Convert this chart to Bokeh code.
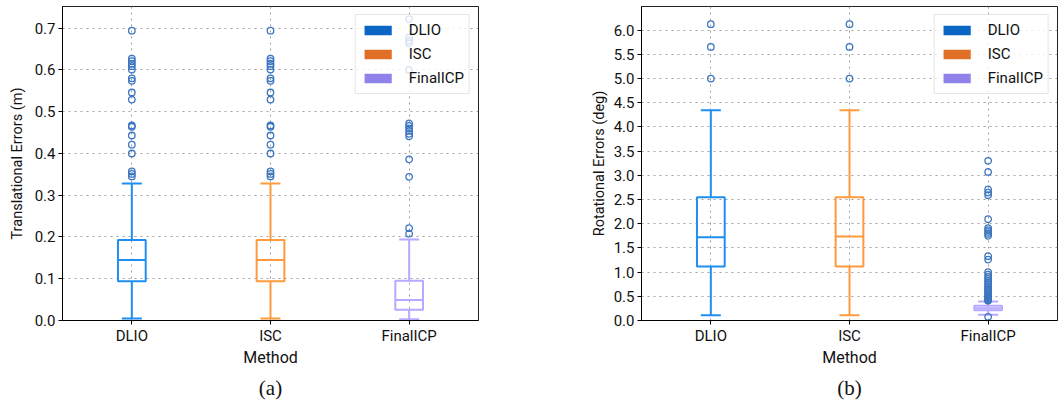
from bokeh.plotting import figure
from bokeh.models import (ColumnDataSource, FactorRange, Range1d, SingleIntervalTicker,
                          Legend, LegendItem, Title, NumeralTickFormatter)
from bokeh.transform import dodge
from bokeh.layouts import row
from bokeh.embed import file_html
from bokeh.resources import INLINE

# ---------------- data ----------------
methods = ["DLIO", "ISC", "FinalICP"]
box_colors = ["#1f8ef1", "#ff9a3d", "#b8a8ff"]
legend_colors = ["#0a66c2", "#e07026", "#8f82ea"]
outlier_color = "#3c76c0"

# translational errors (m): box statistics
t_lo = [0.005, 0.005, 0.003]
t_q1 = [0.094, 0.094, 0.026]
t_med = [0.145, 0.145, 0.049]
t_q3 = [0.193, 0.193, 0.095]
t_hi = [0.328, 0.328, 0.194]
t_out_dlio = [0.694, 0.627, 0.621, 0.615, 0.609, 0.601, 0.580, 0.574, 0.546, 0.529,
              0.467, 0.464, 0.443, 0.421, 0.400, 0.357, 0.351, 0.345]
t_out_isc = [0.694, 0.627, 0.621, 0.615, 0.609, 0.601, 0.580, 0.574, 0.546, 0.529,
             0.467, 0.464, 0.443, 0.421, 0.400, 0.357, 0.351, 0.345]
t_out_ficp = [0.722, 0.678, 0.670, 0.664, 0.600, 0.472, 0.466, 0.460, 0.454, 0.447,
              0.441, 0.386, 0.344, 0.221, 0.208]

# rotational errors (deg): box statistics
r_lo = [0.11, 0.11, 0.12]
r_q1 = [1.116, 1.116, 0.21]
r_med = [1.722, 1.736, 0.255]
r_q3 = [2.548, 2.548, 0.305]
r_hi = [4.347, 4.347, 0.393]
r_out_dlio = [6.125, 5.655, 5.0]
r_out_isc = [6.125, 5.655, 5.0]
r_out_ficp = [3.30, 3.07, 2.71, 2.645, 2.59, 2.094, 1.91, 1.87, 1.83, 1.79, 1.75,
              1.33, 1.26, 1.0, 0.95, 0.9, 0.86, 0.82, 0.78, 0.74, 0.70, 0.67, 0.64,
              0.61, 0.58, 0.55, 0.52, 0.50, 0.48, 0.46, 0.44, 0.42, 0.41, 0.075]

FONT = "Roboto"


def make_plot(lo, q1, med, q3, hi, outs, ylabel, ymax, tick_step, caption,
              border_left, border_right, cap_offset, label_standoff):
    p = figure(x_range=FactorRange(*methods), y_range=Range1d(0, ymax),
               width=530, height=407, output_backend="svg", toolbar_location=None,
               min_border_left=border_left, min_border_right=border_right,
               min_border_top=6, min_border_bottom=87)
    p.background_fill_color = "white"
    p.border_fill_color = "white"
    p.outline_line_color = "#222222"
    p.outline_line_width = 1

    src = ColumnDataSource(dict(method=methods, lo=lo, q1=q1, med=med, q3=q3, hi=hi,
                                color=box_colors, lcolor=legend_colors))
    # whiskers
    p.segment(x0="method", y0="q3", x1="method", y1="hi", source=src,
              line_color="color", line_width=2)
    p.segment(x0="method", y0="lo", x1="method", y1="q1", source=src,
              line_color="color", line_width=2)
    # caps
    p.segment(x0=dodge("method", -0.072, range=p.x_range), y0="hi",
              x1=dodge("method", 0.072, range=p.x_range), y1="hi", source=src,
              line_color="color", line_width=2)
    p.segment(x0=dodge("method", -0.072, range=p.x_range), y0="lo",
              x1=dodge("method", 0.072, range=p.x_range), y1="lo", source=src,
              line_color="color", line_width=2)
    # boxes
    p.vbar(x="method", width=0.2, bottom="q1", top="q3", source=src,
           fill_alpha=0, line_color="color", line_width=2)
    # medians
    p.segment(x0=dodge("method", -0.1, range=p.x_range), y0="med",
              x1=dodge("method", 0.1, range=p.x_range), y1="med", source=src,
              line_color="color", line_width=2)
    # outliers
    ox, oy = [], []
    for m, vals in zip(methods, outs):
        ox += [m] * len(vals)
        oy += vals
    p.scatter(x=ox, y=oy, marker="circle", size=6.5, fill_color=None,
              line_color=outlier_color, line_width=1.3)

    # legend patches: zero-height bars (invisible on the plot) carrying legend colours
    leg_r = p.vbar(x="method", width=0.2, bottom="q1", top="q1", source=src,
                   fill_color="lcolor", line_color=None)
    items = [LegendItem(label=m, renderers=[leg_r], index=i) for i, m in enumerate(methods)]
    leg = Legend(items=items, location="top_right", margin=8, padding=5, spacing=4,
                 glyph_width=34, glyph_height=12, label_height=20, label_standoff=14,
                 label_text_font=FONT, label_text_font_size="15px",
                 label_text_color="#111111",
                 background_fill_alpha=0.8, border_line_color="#cccccc",
                 border_line_width=1)
    p.add_layout(leg, "center")

    # grids
    for g in (p.xgrid, p.ygrid):
        g.grid_line_color = "#a0a0a0"
        g.grid_line_dash = "2 4"
        g.grid_line_width = 1
    # axes
    p.yaxis.ticker = SingleIntervalTicker(interval=tick_step)
    p.yaxis.formatter = NumeralTickFormatter(format="0.0")
    p.yaxis.axis_label = ylabel
    p.xaxis.axis_label = "Method"
    for ax in (p.xaxis, p.yaxis):
        ax.axis_line_color = "black"
        ax.major_tick_line_color = "black"
        ax.major_tick_out = 4
        ax.major_tick_in = 0
        ax.minor_tick_line_color = None
        ax.major_label_text_font = FONT
        ax.major_label_text_font_size = "15px"
        ax.major_label_text_color = "#111111"
        ax.axis_label_text_font = FONT
        ax.axis_label_text_font_style = "normal"
        ax.axis_label_text_color = "#111111"
    p.xaxis.axis_label_text_font_size = "16px"
    p.yaxis.axis_label_text_font_size = "14.5px"
    p.xaxis.major_label_standoff = 2
    p.xaxis.axis_label_standoff = 0
    p.yaxis.major_label_standoff = 3
    p.yaxis.axis_label_standoff = label_standoff

    cap = Title(text=caption, align="center", text_font="Liberation Serif",
                text_font_size="21px", text_font_style="normal",
                text_color="#111111", offset=cap_offset, standoff=8)
    p.add_layout(cap, "below")
    return p


p1 = make_plot(t_lo, t_q1, t_med, t_q3, t_hi, [t_out_dlio, t_out_isc, t_out_ficp],
               "Translational Errors (m)", 0.752, 0.1, "(a)", 62, 52, -11, 6)
p2 = make_plot(r_lo, r_q1, r_med, r_q3, r_hi, [r_out_dlio, r_out_isc, r_out_ficp],
               "Rotational Errors (deg)", 6.49, 0.5, "(b)", 111, 3, -12, 3)

layout = row(p1, p2, spacing=0)
open("out.html", "w").write(file_html(layout, INLINE))
